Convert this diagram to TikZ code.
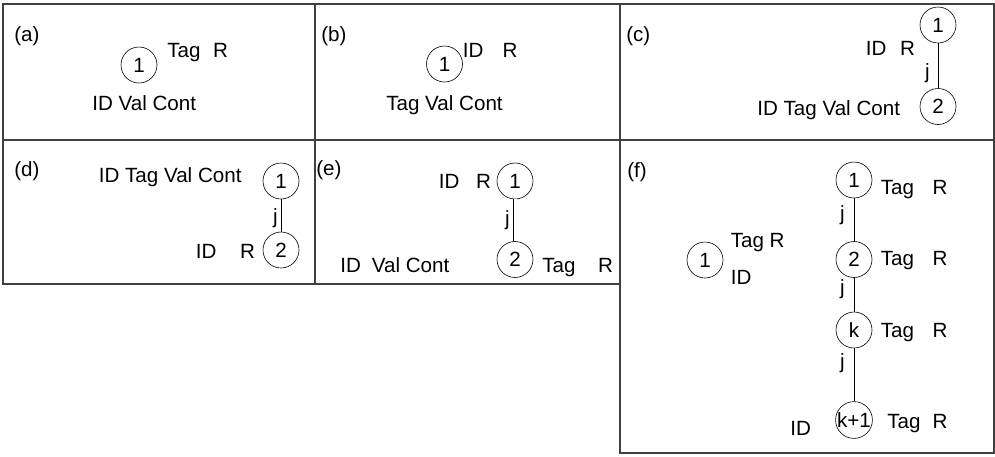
\documentclass[tikz,border=0pt]{standalone}
\usepackage{fontspec}
\setmainfont{Liberation Sans}

\begin{document}
\begin{tikzpicture}[x = 1pt, y = -1pt, % one unit per pixel, y grows downwards
                semithick, % line style
                font = \fontsize{20.6}{24}\selectfont
            ]

            \tikzstyle{vtx}=[draw = black, circle, inner sep = 0pt,
            minimum size = 36pt]
            \tikzstyle{lbl}=[inner sep = 0pt, anchor = base west]
            \tikzstyle{rl}=[inner sep = 0pt, anchor = base] % the lone R's
            \tikzstyle{jl}=[inner sep = 0pt]
            \tikzstyle{pane}=[draw = black!75, line width = 1.4pt]

            \useasboundingbox (0,0) rectangle (995,456);

            % panel frames
            \draw[pane] (3,4) rectangle (994,140);
            \draw[pane] (3,140) -- (3,284) -- (620,284);
            \draw[pane] (315,4) -- (315,284);
            \draw[pane] (620,4) -- (620,453) -- (994,453) -- (994,140);

            % (a)
            \node[lbl] (la) at (14,41) {(a)};
            \node[vtx] (a1) at (139,65) {1};
            \node[lbl] (atag) at (167,57) {Tag}; \node[rl] (aR) at (220.5,57) {R};
            \node[lbl] (aid) at (92,110) {ID Val Cont};

            % (b)
            \node[lbl] (lb) at (321,41) {(b)};
            \node[vtx] (b1) at (444.5,64) {1};
            \node[lbl] (bid) at (462.5,57) {ID}; \node[rl] (bR) at (510,57) {R};
            \node[lbl] (btag) at (386,110) {Tag Val Cont};

            % (c)
            \node[lbl] (lc) at (626,41) {(c)};
            \node[vtx] (c1) at (938,25) {1}; \node[vtx] (c2) at (938,106.5) {2};
            \node[lbl] (cid) at (865.5,55) {ID}; \node[rl] (cR) at (907.5,55) {R};
            \node[lbl] (ctag) at (757,115) {ID Tag Val Cont};
            \path (c1) edge node[jl, left = 8pt, pos = .67] {j} (c2);

            % (d)
            \node[lbl] (ld) at (14,176) {(d)};
            \node[vtx] (d1) at (281,181) {1}; \node[vtx] (d2) at (281,250) {2};
            \node[lbl] (dtag) at (98.5,182) {ID Tag Val Cont};
            \node[lbl] (did) at (195.5,258) {ID}; \node[rl] (dR) at (247.5,258) {R};
            \path (d1) edge node[jl, left = 3pt, pos = .59] {j} (d2);

            % (e)
            \node[lbl] (le) at (316,175) {(e)};
            \node[vtx] (e1) at (515,181) {1}; \node[vtx] (e2) at (515,259.5) {2};
            \node[lbl] (eid) at (438.5,188) {ID}; \node[rl] (eR) at (483.5,188) {R};
            \node[lbl] (eval) at (340,272) {ID\hspace{11pt}Val Cont};
            \node[lbl] (etag) at (542,272) {Tag}; \node[rl] (e2R) at (605.5,272) {R};
            \path (e1) edge[double, double distance = 3pt]
            node[jl, left = 5pt, pos = .5] {j} (e2);

            % (f)
            \node[lbl] (lf) at (627,177) {(f)};
            \node[vtx] (f0) at (705,260) {1};
            \node[lbl] (f0tag) at (730.5,247) {Tag R};
            \node[lbl] (f0id) at (730.5,284) {ID};

            \node[vtx] (f1) at (854,180) {1}; \node[vtx] (f2) at (854,259.5) {2};
            \node[vtx] (fk) at (854,330) {k}; \node[vtx] (fk1) at (854,420) {k+1};
            \node[lbl] (f1tag) at (880.5,194) {Tag}; \node[rl] (f1R) at (940,194) {R};
            \node[lbl] (f2tag) at (880.5,265) {Tag}; \node[rl] (f2R) at (940,265) {R};
            \node[lbl] (fktag) at (880.5,337) {Tag}; \node[rl] (fkR) at (940,337) {R};
            \node[lbl] (fk1tag) at (887,428) {Tag}; \node[rl] (fk1R) at (940,428) {R};
            \node[lbl] (fid) at (790,435) {ID};

            \path (f1) edge node[jl, left = 9pt, pos = .4] {j} (f2);
            \path (f2) edge node[jl, left = 9pt, pos = .35] {j} (fk);
            \path (fk) edge node[jl, left = 9pt, pos = .28] {j} (fk1);
        \end{tikzpicture}
\end{document}
